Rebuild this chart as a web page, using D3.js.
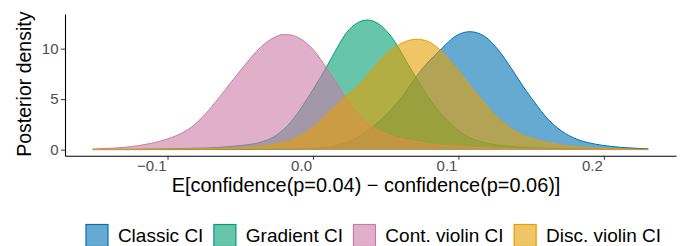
<!DOCTYPE html>
<html>
<head>
<meta charset="utf-8">
<script src="https://cdn.jsdelivr.net/npm/d3@7"></script>
<style>
  body { margin: 0; background: #fff; }
  svg { display: block; font-family: "Liberation Sans", Arial, sans-serif; }
</style>
</head>
<body>
<div id="chart"></div>
<script>
// series names, in drawing order
var seriesNames = ["Classic CI", "Gradient CI", "Cont. violin CI", "Disc. violin CI"];
var seriesColors = ["#0072B2", "#009E73", "#CC79A7", "#E69F00"];

// posterior density curves: [difference, density]
var classicCI = [[-0.1514,0],[-0.05,0.01],[0,0.12],[0.0186,0.49],[0.030,1.15],[0.0414,2.3],[0.0506,3.5],
  [0.0564,4.4],[0.0655,6.1],[0.0723,7.5],[0.080,8.8],[0.0885,10.0],[0.0976,11.2],[0.1079,11.68],[0.1182,11.2],
  [0.1274,9.87],[0.1366,8.0],[0.1457,6.0],[0.1549,4.2],[0.1595,3.35],[0.1709,1.85],[0.1821,1.0],[0.1936,0.56],
  [0.205,0.32],[0.2165,0.18],[0.2305,0.08]];
var gradientCI = [[-0.1514,0.02],[-0.12,0.05],[-0.10,0.08],[-0.08,0.14],[-0.0651,0.22],[-0.0502,0.4],[-0.0364,0.72],
  [-0.0272,1.25],[-0.018,2.3],[-0.0089,3.95],[0.0002,6.0],[0.0094,8.2],[0.0163,10.0],[0.0232,11.6],[0.030,12.5],
  [0.0376,12.83],[0.0461,12.35],[0.0529,11.35],[0.0562,10.7],[0.0655,8.4],[0.0747,6.25],[0.0838,4.27],[0.093,2.79],
  [0.1022,1.65],[0.1113,0.99],[0.1251,0.49],[0.1478,0.2],[0.18,0.06],[0.2305,0.01]];
var contViolinCI = [[-0.1514,0.06],[-0.140,0.13],[-0.1292,0.24],[-0.12,0.40],[-0.1109,0.64],[-0.1017,0.98],
  [-0.0926,1.47],[-0.0834,2.25],[-0.0742,3.5],[-0.0651,5.05],[-0.0559,6.75],[-0.0467,8.4],[-0.039,9.7],
  [-0.0318,10.65],[-0.026,11.15],[-0.0204,11.4],[-0.015,11.35],[-0.0089,11.0],[0.0002,9.9],[0.0094,8.07],
  [0.0163,6.6],[0.0232,5.0],[0.0323,3.3],[0.0414,2.2],[0.0507,1.55],[0.0598,1.1],[0.070,0.8],[0.079,0.6],
  [0.090,0.42],[0.102,0.3],[0.125,0.14],[0.15,0.06],[0.18,0.02],[0.2305,0]];
var discViolinCI = [[-0.1514,0.01],[-0.10,0.04],[-0.0502,0.17],[-0.0272,0.49],[-0.0135,0.99],[-0.0043,1.71],
  [0.0048,2.79],[0.014,4.1],[0.0232,5.35],[0.0323,6.5],[0.0415,8.07],[0.0507,9.5],[0.0598,10.45],[0.0713,10.93],
  [0.0793,10.7],[0.0885,9.7],[0.0976,8.22],[0.1067,6.58],[0.1159,4.94],[0.1251,3.46],[0.1342,2.3],[0.1434,1.48],
  [0.1526,0.99],[0.164,0.62],[0.1755,0.35],[0.1984,0.13],[0.2305,0.02]];
var seriesData = [classicCI, gradientCI, contViolinCI, discViolinCI];

// tick labels
var xTicks = [-0.1, 0, 0.1, 0.2];
var yTicks = [0, 5, 10];

var width = 687, height = 246;
var margin = {top: 14, right: 11, bottom: 90.3, left: 65};

var svg = d3.select("#chart").append("svg")
    .attr("width", width)
    .attr("height", height);

var x = d3.scaleLinear()
    .domain([-0.1705, 0.2496])
    .range([margin.left, width - margin.right]);

var y = d3.scaleLinear()
    .domain([-0.6, 13.43])
    .range([height - margin.bottom, margin.top]);

var area = d3.area()
    .x(function(d) { return x(d[0]); })
    .y0(y(0))
    .y1(function(d) { return y(d[1]); })
    .curve(d3.curveMonotoneX);

var line = d3.line()
    .x(function(d) { return x(d[0]); })
    .y(function(d) { return y(d[1]); })
    .curve(d3.curveMonotoneX);

var curves = svg.append("g");
seriesData.forEach(function(data, i) {
    curves.append("path")
        .attr("d", area(data))
        .attr("fill", seriesColors[i])
        .attr("fill-opacity", 0.6);
    curves.append("path")
        .attr("d", line(data))
        .attr("fill", "none")
        .attr("stroke", seriesColors[i])
        .attr("stroke-width", 1);
});

// x axis
var xAxis = svg.append("g")
    .attr("transform", "translate(0," + (height - margin.bottom) + ")")
    .attr("font-family", null)
    .attr("font-size", 15)
    .call(d3.axisBottom(x).tickValues(xTicks).tickSize(4).tickSizeOuter(0)
        .tickFormat(function(d) { return d3.format(".1f")(d).replace("-", "\u2212"); }));
xAxis.attr("font-family", null).attr("font-size", 15);
xAxis.select(".domain").attr("stroke", "#000").attr("stroke-width", 1.1);
xAxis.selectAll(".tick line").attr("stroke", "#333");
xAxis.selectAll(".tick text")
    .attr("fill", "#4d4d4d")
    .attr("text-anchor", "end")
    .attr("x", -1.5)
    .attr("y", 15.3)
    .attr("dy", 0);

// y axis
var yAxis = svg.append("g")
    .attr("transform", "translate(" + margin.left + ",0)")
    .call(d3.axisLeft(y).tickValues(yTicks).tickSize(4).tickSizeOuter(0));
yAxis.attr("font-family", null).attr("font-size", 15);
yAxis.select(".domain").attr("stroke", "#000").attr("stroke-width", 1.1);
yAxis.selectAll(".tick line").attr("stroke", "#333");
yAxis.selectAll(".tick text")
    .attr("fill", "#4d4d4d")
    .attr("x", -6.5);

// axis titles
svg.append("text")
    .attr("x", 366)
    .attr("y", 192.3)
    .attr("text-anchor", "middle")
    .attr("font-size", "19.9px")
    .text("E[confidence(p=0.04) \u2212 confidence(p=0.06)]");

svg.append("text")
    .attr("transform", "translate(31,84.2) rotate(-90)")
    .attr("text-anchor", "middle")
    .attr("font-size", "19.5px")
    .text("Posterior density");

// legend
var legend = svg.append("g");
var keySize = 23, pos = 0;
seriesNames.forEach(function(name, i) {
    var item = legend.append("g").attr("transform", "translate(" + pos + ",0)");
    item.append("rect")
        .attr("x", 0.5).attr("y", 224.5)
        .attr("width", keySize - 1).attr("height", keySize - 1)
        .attr("fill", seriesColors[i])
        .attr("fill-opacity", 0.6)
        .attr("stroke", seriesColors[i])
        .attr("stroke-width", 1.2);
    var t = item.append("text")
        .attr("x", keySize + 9.4)
        .attr("y", 241.7)
        .attr("font-size", "19px")
        .text(name);
    pos += keySize + 9.4 + t.node().getComputedTextLength() + 10;
});
var legendWidth = pos - 10;
legend.attr("transform", "translate(" + (373.3 - legendWidth / 2) + ",0)");
</script>
</body>
</html>
